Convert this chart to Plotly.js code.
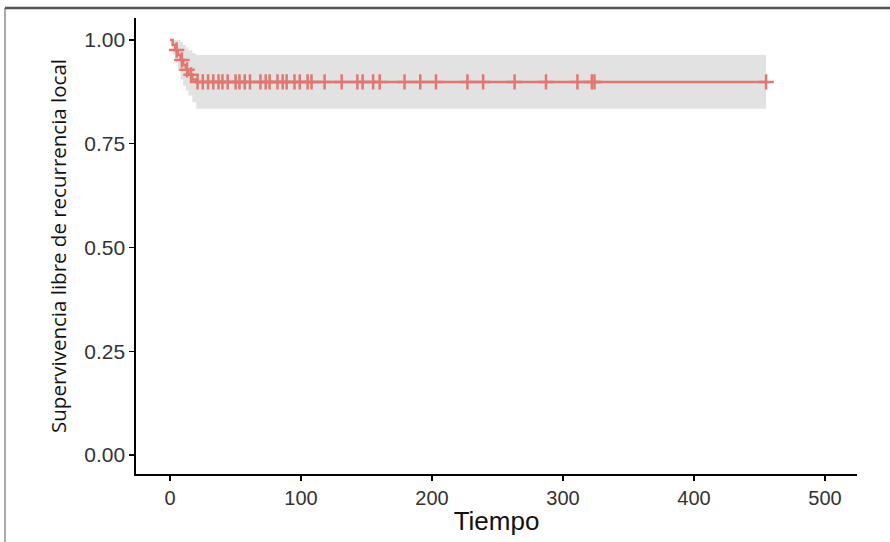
<!DOCTYPE html>
<html>
<head>
<meta charset="utf-8">
<script src="https://cdn.plot.ly/plotly-3.0.1.min.js"></script>
<style>html,body{margin:0;padding:0;background:#fff;}#chart{width:890px;height:542px;}</style>
</head>
<body>
<div id="chart"></div>
<script>
// Kaplan-Meier step data
const stepTimes = [0, 2, 4, 6, 8, 10, 12, 14, 17, 20, 455];
const survival  = [1, 0.988, 0.976, 0.964, 0.952, 0.940, 0.928, 0.916, 0.905, 0.899, 0.899];
const upperCI   = [1, 1, 1, 1, 0.995, 0.988, 0.982, 0.975, 0.968, 0.964, 0.964];
const lowerCI   = [1, 0.965, 0.945, 0.925, 0.905, 0.890, 0.878, 0.866, 0.850, 0.834, 0.834];
// censoring times
const censorTimes = [5, 9, 13, 16, 21, 25, 29, 33, 37, 40, 44, 50, 53, 57, 61, 69, 73, 76, 82, 86, 89, 95, 99, 105, 108, 118, 131, 143, 147, 155, 160, 179, 191, 203, 227, 239, 263, 287, 311, 322, 324, 455];
const xTicks = [0, 100, 200, 300, 400, 500];
const yTicks = [0, 0.25, 0.5, 0.75, 1];
const yTickText = ["0.00", "0.25", "0.50", "0.75", "1.00"];

function survAt(t) {
  let s = survival[0];
  for (let i = 0; i < stepTimes.length; i++) { if (stepTimes[i] <= t) s = survival[i]; }
  return s;
}

const lineColor = '#e2776f';
const traces = [
  {x: stepTimes, y: lowerCI, mode: 'lines', line: {shape: 'hv', width: 0, color: 'rgba(0,0,0,0)'}, hoverinfo: 'skip', showlegend: false},
  {x: stepTimes, y: upperCI, mode: 'lines', line: {shape: 'hv', width: 0, color: 'rgba(0,0,0,0)'}, fill: 'tonexty', fillcolor: '#e2e2e2', hoverinfo: 'skip', showlegend: false},
  {x: stepTimes, y: survival, mode: 'lines', line: {shape: 'hv', width: 2.5, color: lineColor}, showlegend: false},
  {x: censorTimes, y: censorTimes.map(survAt), mode: 'markers', marker: {symbol: 'cross-thin', size: 11, line: {width: 2.5, color: lineColor}, color: lineColor}, showlegend: false}
];

const layout = {
  width: 890, height: 542,
  margin: {l: 136, r: 33, t: 18, b: 68},
  paper_bgcolor: '#ffffff', plot_bgcolor: '#ffffff',
  showlegend: false,
  xaxis: {
    range: [-26, 524.4], tickvals: xTicks, ticks: 'outside', ticklen: 5, tickwidth: 1.3, tickcolor: '#000',
    showline: true, linecolor: '#000', linewidth: 1.6, showgrid: false, zeroline: false,
    tickfont: {family: 'Liberation Sans, Arial, sans-serif', size: 20, color: '#333'},
    title: {text: 'Tiempo', font: {family: 'Liberation Sans, Arial, sans-serif', size: 26, color: '#111'}, standoff: 4}
  },
  yaxis: {
    range: [-0.046, 1.053], tickvals: yTicks, ticktext: yTickText, ticks: 'outside', ticklen: 5, tickwidth: 1.3, tickcolor: '#000',
    showline: true, linecolor: '#000', linewidth: 1.6, showgrid: false, zeroline: false,
    tickfont: {family: 'Liberation Sans, Arial, sans-serif', size: 21, color: '#333'},
    title: {text: 'Supervivencia libre de recurrencia local', font: {family: 'Open Sans, sans-serif', size: 20.5, color: '#111'}, standoff: 12}
  },
  shapes: [
    {type: 'line', xref: 'paper', yref: 'paper', x0: -0.1817, x1: 1.05, y0: 1.022, y1: 1.022, line: {color: '#555', width: 2.5}},
    {type: 'line', xref: 'paper', yref: 'paper', x0: -0.1817, x1: -0.1817, y0: 1.022, y1: -0.2, line: {color: '#555', width: 1}}
  ]
};

Plotly.newPlot('chart', traces, layout, {displayModeBar: false, staticPlot: true});
</script>
</body>
</html>
